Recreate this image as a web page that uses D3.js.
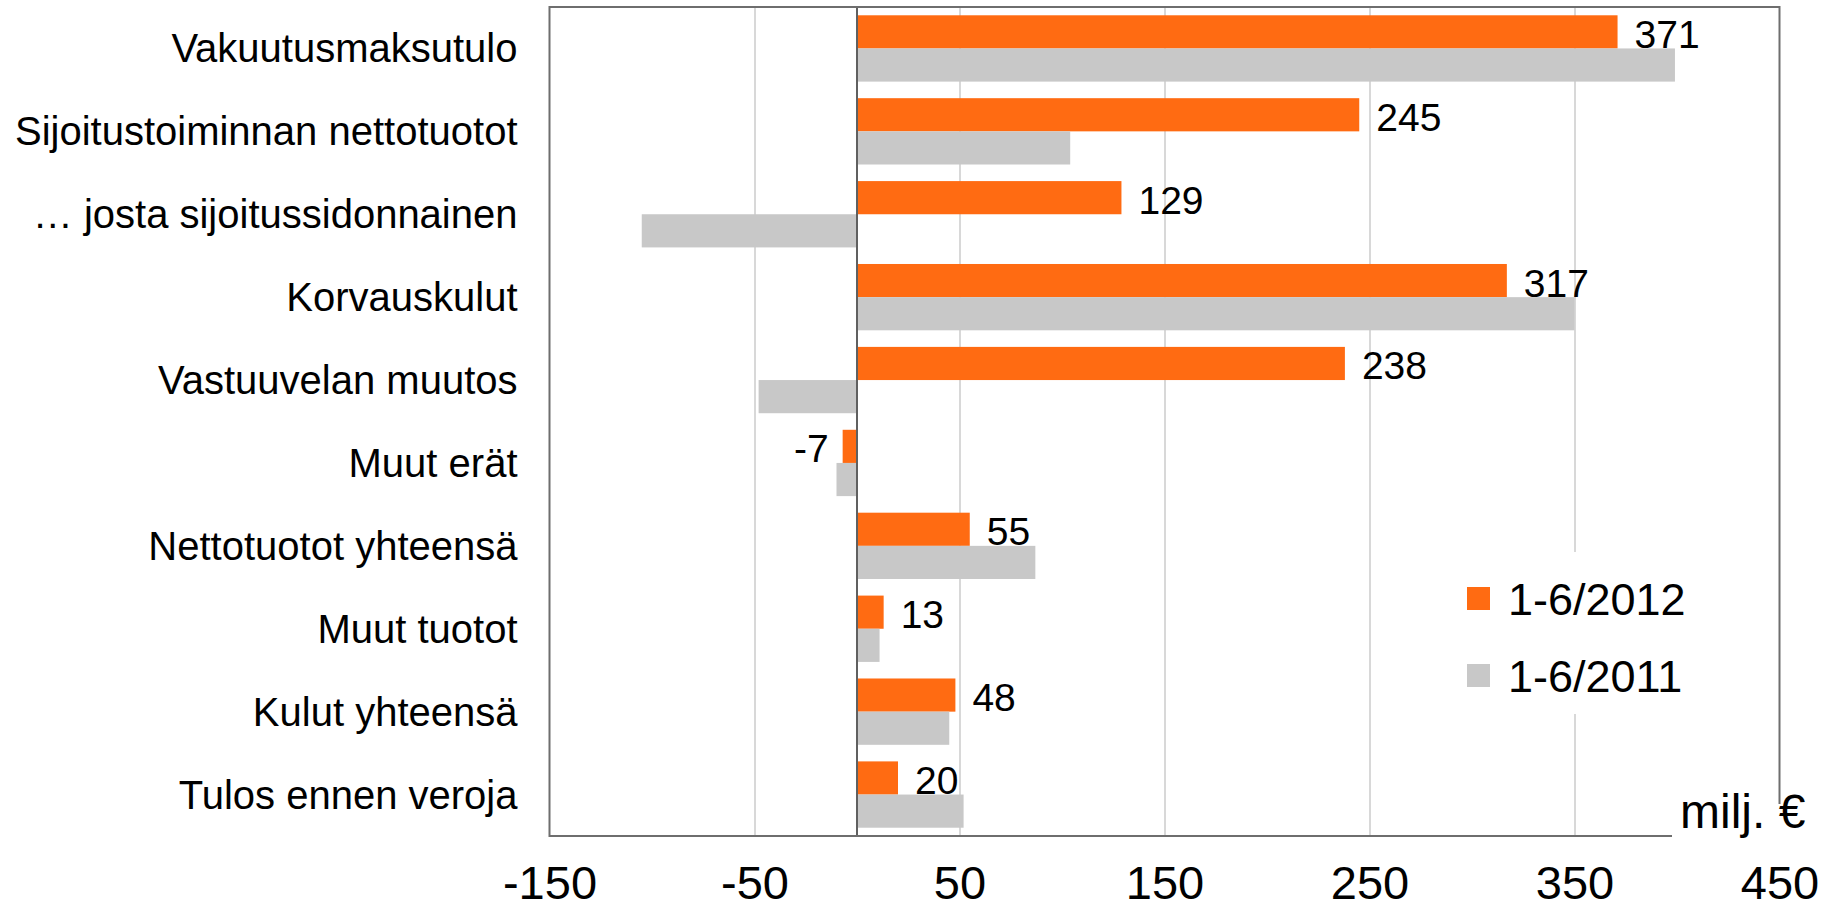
<!DOCTYPE html>
<html><head><meta charset="utf-8">
<script src="https://cdn.jsdelivr.net/npm/d3@7"></script>
<style>
body{margin:0;background:#fff;}
svg{display:block;}
text{font-family:"Liberation Sans",Arial,sans-serif;fill:#000;}
</style>
</head><body>
<svg id="c" width="1841" height="919"></svg>
<script>
const categories = ["Vakuutusmaksutulo","Sijoitustoiminnan nettotuotot","\u2026 josta sijoitussidonnainen","Korvauskulut","Vastuuvelan muutos","Muut erät","Nettotuotot yhteensä","Muut tuotot","Kulut yhteensä","Tulos ennen veroja"];
const seriesNames = ["1-6/2012","1-6/2011"];
const values2012 = [371,245,129,317,238,-7,55,13,48,20];
const values2011 = [399,104,-105,350,-48,-10,87,11,45,52];
const xTicks = [-150,-50,50,150,250,350,450];
const unitLabel = "milj. €";
const colors = ["#FF6B12","#C8C8C8"];

const L=549.5, R=1779.5, T=7, B=836;
const svg = d3.select("#c");
svg.append("rect").attr("width",1841).attr("height",919).attr("fill","#fff");

const x = d3.scaleLinear().domain([-150,450]).range([L,R]);
const y0 = d3.scaleBand().domain(categories).range([T,B]).paddingInner(0.2).paddingOuter(0.1);
const y1 = d3.scaleBand().domain(seriesNames).range([0,y0.bandwidth()]);

// gridlines
const grid = svg.append("g").attr("transform",`translate(0,${B})`)
  .call(d3.axisBottom(x).tickValues(xTicks.filter(v=>v>-150&&v<450)).tickSize(-(B-T)).tickFormat(""));
grid.select(".domain").remove();
grid.selectAll("line").attr("stroke","#CFCFCF").attr("stroke-width",1.6);

// legend background (hides gridline)
svg.append("rect").attr("x",1450).attr("y",552).attr("width",250).attr("height",162).attr("fill","#fff");

// bars
const data = categories.map((c,i)=>({c, vals:[values2012[i],values2011[i]]}));
const groups = svg.append("g").selectAll("g").data(data).join("g")
  .attr("transform",d=>`translate(0,${y0(d.c)})`);
groups.selectAll("rect").data(d=>d.vals.map((v,j)=>({v,s:seriesNames[j],j}))).join("rect")
  .attr("x",d=>x(Math.min(0,d.v))).attr("width",d=>Math.abs(x(d.v)-x(0)))
  .attr("y",d=>y1(d.s)).attr("height",y1.bandwidth())
  .attr("fill",d=>colors[d.j]);

// value labels for 2012
svg.append("g").selectAll("text").data(data).join("text")
  .attr("x",d=>d.vals[0]>=0 ? x(d.vals[0])+17 : x(d.vals[0])-14)
  .attr("y",d=>y0(d.c)+y1(seriesNames[0])+y1.bandwidth()/2+16)
  .attr("text-anchor",d=>d.vals[0]>=0?"start":"end")
  .attr("font-size",39)
  .text(d=>String(d.vals[0]).replace("\u2212","-"));

// zero line
svg.append("line").attr("x1",x(0)).attr("x2",x(0)).attr("y1",T).attr("y2",B)
  .attr("stroke","#606060").attr("stroke-width",2);

// plot border
svg.append("rect").attr("x",L).attr("y",T).attr("width",R-L).attr("height",B-T)
  .attr("fill","none").attr("stroke","#6E6E6E").attr("stroke-width",2);

// category axis
const ya = svg.append("g").attr("transform",`translate(${L},0)`)
  .call(d3.axisLeft(y0).tickSize(0).tickPadding(32));
ya.select(".domain").remove();
ya.selectAll("text").attr("font-size",40).attr("dy","0.35em").attr("fill","#000")
  .style("font-family",'"Liberation Sans",Arial,sans-serif');

// value axis labels
const xa = svg.append("g").attr("transform",`translate(0,${B})`)
  .call(d3.axisBottom(x).tickValues(xTicks).tickSize(0).tickFormat(d=>String(d)));
xa.select(".domain").remove();
xa.selectAll("text").attr("y",63).attr("dy",0).attr("font-size",47).attr("fill","#000")
  .style("font-family",'"Liberation Sans",Arial,sans-serif');

// unit label box
svg.append("rect").attr("x",1672).attr("y",804).attr("width",169).attr("height",50).attr("fill","#fff");
svg.append("text").attr("x",1680).attr("y",828).attr("font-size",48).text(unitLabel);

// legend
const lg = svg.append("g").selectAll("g").data(seriesNames).join("g")
  .attr("transform",(d,i)=>`translate(1467,${587+i*77})`);
lg.append("rect").attr("width",23).attr("height",23).attr("fill",(d,i)=>colors[i]);
lg.append("text").attr("x",41).attr("y",28).attr("font-size",45).text(d=>d);
</script>
</body></html>
